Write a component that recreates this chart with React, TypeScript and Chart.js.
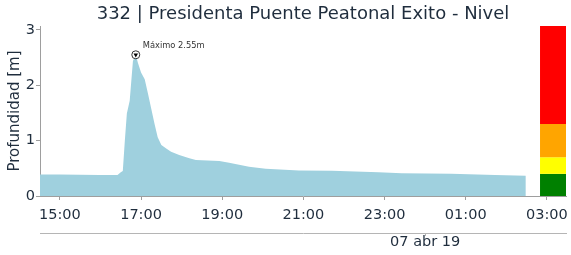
import React, { useEffect, useRef } from 'react';
import { Chart, registerables } from 'chart.js';

Chart.register(...registerables);

const TITLE = '332 | Presidenta Puente Peatonal Exito - Nivel';
const Y_TITLE = 'Profundidad [m]';
const DATE_LABEL = '07 abr 19';
const MAX_LABEL = 'Máximo 2.55m';

// time in hours since 00:00 of 06 abr (24 = 00:00 of 07 abr)
const times = [
  14.51, 15.0, 15.49, 15.98, 16.42, 16.5, 16.55, 16.6, 16.65, 16.72, 16.76, 16.8, 16.87,
  16.92, 17.0, 17.09, 17.17, 17.25, 17.33, 17.41, 17.5, 17.62, 17.74, 17.94, 18.19, 18.35,
  18.93, 19.17, 19.66, 20.07, 20.89, 21.7, 22.85, 23.42, 24.64, 25.72, 26.48,
];
const levels = [
  0.39, 0.39, 0.385, 0.38, 0.38, 0.43, 0.45, 1.0, 1.49, 1.72, 2.08, 2.44, 2.55,
  2.41, 2.23, 2.11, 1.85, 1.58, 1.31, 1.06, 0.92, 0.86, 0.8, 0.74, 0.68, 0.65,
  0.63, 0.6, 0.53, 0.49, 0.46, 0.455, 0.43, 0.41, 0.4, 0.38, 0.365,
];
const peakTime = 16.87;
const peakLevel = 2.55;

const xTicks = [15, 17, 19, 21, 23, 25, 27];
const dateTick = [24];
const yTicks = [0, 1, 2, 3];
const xMin = 14.51;
const xMax = 27.47;
const yMax = 3.07;

// alert level bands (m)
const bandLimits = [0, 0.4, 0.7, 1.3, 3.07];
const bandColors = ['#008000', '#ffff00', '#ffa500', '#ff0000'];
const bandTimeRange = [26.83, 27.47];

const TEXT = '#1f2d3d';
const AXIS = '#9e9e9e';
const FONT = "'DejaVu Sans', sans-serif";

const fmtHour = (v: number) => {
  const h = ((Math.round(v) % 24) + 24) % 24;
  return (h < 10 ? '0' : '') + h + ':00';
};

const noPad = (s: any) => {
  s.paddingLeft = 0;
  s.paddingRight = 0;
  s.paddingTop = 0;
  s.paddingBottom = 0;
};

const extrasPlugin = {
  id: 'extras',
  beforeDatasetsDraw(chart: any) {
    const { ctx, scales } = chart;
    const x = scales.x;
    const y = scales.y;
    const x0 = x.getPixelForValue(bandTimeRange[0]);
    const x1 = x.getPixelForValue(bandTimeRange[1]);
    ctx.save();
    for (let i = 0; i < bandColors.length; i++) {
      const yb = y.getPixelForValue(bandLimits[i]);
      const yt = y.getPixelForValue(bandLimits[i + 1]);
      ctx.fillStyle = bandColors[i];
      ctx.fillRect(x0, yt, x1 - x0, yb - yt);
    }
    ctx.restore();
  },
  afterDatasetsDraw(chart: any) {
    const { ctx, scales, chartArea } = chart;
    const px = scales.x.getPixelForValue(peakTime);
    const py = scales.y.getPixelForValue(peakLevel);
    ctx.save();
    ctx.fillStyle = '#333333';
    ctx.font = `8.3px ${FONT}`;
    ctx.textAlign = 'left';
    ctx.textBaseline = 'middle';
    ctx.fillText(MAX_LABEL, px + 7, py - 9);
    ctx.fillStyle = TEXT;
    ctx.font = `18px ${FONT}`;
    ctx.textAlign = 'center';
    ctx.fillText(TITLE, (chartArea.left + chartArea.right) / 2, 14);
    ctx.restore();
  },
};

export default function App() {
  const ref = useRef<HTMLCanvasElement | null>(null);
  useEffect(() => {
    if (!ref.current) return;
    const chart = new Chart(ref.current, {
      type: 'line',
      data: {
        datasets: [
          {
            type: 'scatter',
            data: [{ x: peakTime, y: peakLevel }],
            pointStyle: 'triangle',
            rotation: 180,
            pointRadius: 2.6,
            backgroundColor: '#000000',
            borderColor: '#000000',
            borderWidth: 0,
          } as any,
          {
            type: 'scatter',
            data: [{ x: peakTime, y: peakLevel }],
            pointStyle: 'circle',
            pointRadius: 4,
            backgroundColor: '#ffffff',
            borderColor: '#333333',
            borderWidth: 1,
          } as any,
          {
            data: times.map((t, i) => ({ x: t, y: levels[i] })),
            fill: 'origin',
            backgroundColor: '#9fd0de',
            borderColor: '#9fd0de',
            borderWidth: 0,
            pointRadius: 0,
            tension: 0,
          },
        ],
      },
      options: {
        animation: false,
        responsive: false,
        devicePixelRatio: 1,
        events: [],
        layout: { padding: { top: 26, right: 3, left: 0, bottom: 0 } },
        plugins: {
          legend: { display: false },
          tooltip: { enabled: false },
          title: { display: false },
        },
        scales: {
          x: {
            type: 'linear',
            position: 'bottom',
            min: xMin,
            max: xMax,
            afterBuildTicks: (s: any) => {
              s.ticks = xTicks.map((v) => ({ value: v }));
            },
            afterFit: (s: any) => {
              s.height = 37;
              noPad(s);
            },
            ticks: {
              autoSkip: false,
              maxRotation: 0,
              padding: 7,
              color: TEXT,
              font: { family: FONT, size: 14.5 },
              callback: (v: any) => fmtHour(Number(v)),
            },
            grid: { drawOnChartArea: false, drawTicks: true, tickLength: 4, color: AXIS },
            border: { display: true, color: AXIS },
          },
          x2: {
            type: 'linear',
            position: 'bottom',
            min: xMin,
            max: xMax,
            afterBuildTicks: (s: any) => {
              s.ticks = dateTick.map((v) => ({ value: v }));
            },
            afterFit: (s: any) => {
              s.height = 22;
              noPad(s);
            },
            ticks: {
              autoSkip: false,
              maxRotation: 0,
              padding: -2,
              color: TEXT,
              font: { family: FONT, size: 14.5 },
              callback: () => DATE_LABEL,
            },
            grid: { drawOnChartArea: false, drawTicks: true, tickLength: 3, color: '#b5b5b5' },
            border: { display: true, color: '#b5b5b5' },
          },
          y: {
            type: 'linear',
            min: 0,
            max: yMax,
            afterBuildTicks: (s: any) => {
              s.ticks = yTicks.map((v) => ({ value: v }));
            },
            afterFit: (s: any) => {
              s.width = 40;
              noPad(s);
            },
            ticks: {
              padding: 1,
              color: TEXT,
              font: { family: FONT, size: 14.5 },
              callback: (v: any) => String(v),
            },
            title: {
              display: true,
              text: Y_TITLE,
              color: TEXT,
              font: { family: FONT, size: 15 },
              padding: { top: 6, bottom: 0 },
            },
            grid: { drawOnChartArea: false, drawTicks: true, tickLength: 4, color: AXIS },
            border: { display: true, color: AXIS },
          },
        },
      },
      plugins: [extrasPlugin],
    });
    return () => chart.destroy();
  }, []);
  return (
    <div style={{ position: 'fixed', left: 0, top: 0, width: 571, height: 255, background: '#ffffff' }}>
      <canvas ref={ref} width={571} height={255} style={{ display: 'block' }} />
    </div>
  );
}
